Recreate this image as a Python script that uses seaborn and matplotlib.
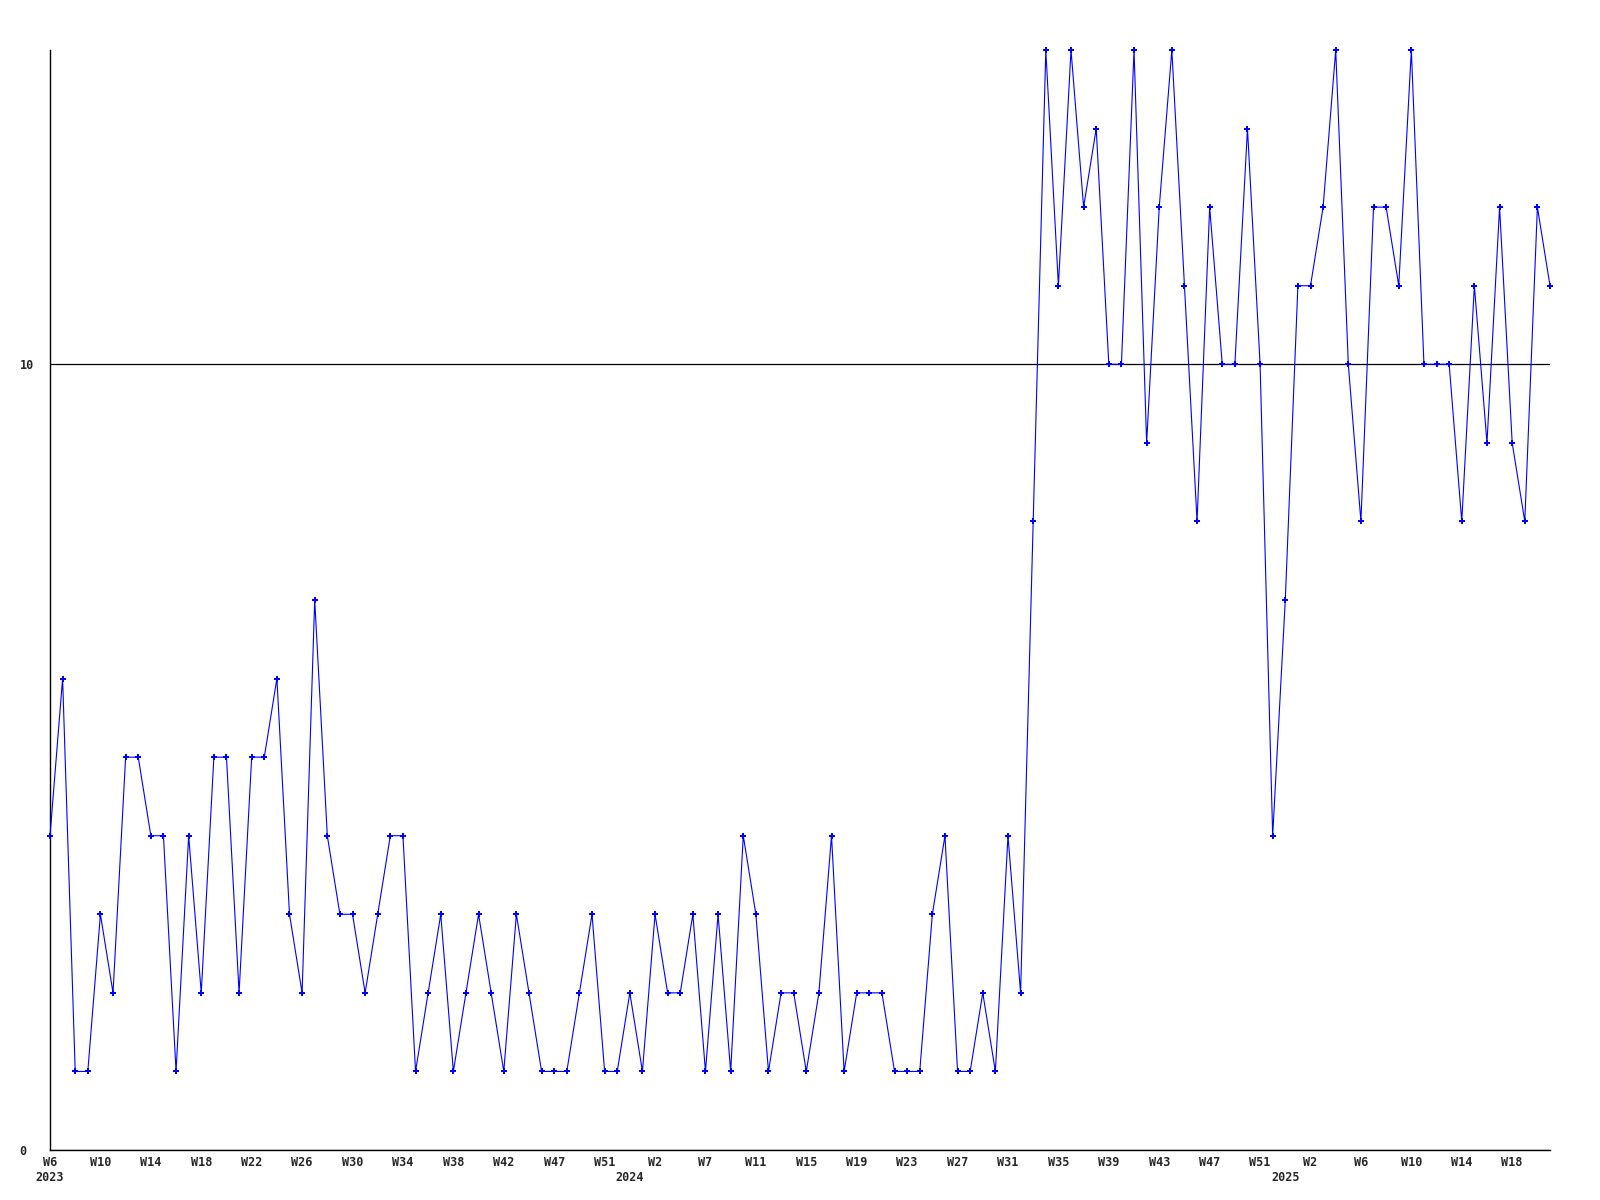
import numpy as np
import pandas as pd
import matplotlib
matplotlib.use('Agg')
import matplotlib.pyplot as plt
import seaborn as sns

# weekly counts, 2023 W6 -> 2025 W21
values = [4, 6, 1, 1, 3, 2, 5, 5, 4, 4,
          1, 4, 2, 5, 5, 2, 5, 5, 6, 3,
          2, 7, 4, 3, 3, 2, 3, 4, 4, 1,
          2, 3, 1, 2, 3, 2, 1, 3, 2, 1,
          1, 1, 2, 3, 1, 1, 2, 1, 3, 2,
          2, 3, 1, 3, 1, 4, 3, 1, 2, 2,
          1, 2, 4, 1, 2, 2, 2, 1, 1, 1,
          3, 4, 1, 1, 2, 1, 4, 2, 8, 14,
          11, 14, 12, 13, 10, 10, 14, 9, 12, 14,
          11, 8, 12, 10, 10, 13, 10, 4, 7, 11,
          11, 12, 14, 10, 8, 12, 12, 11, 14, 10,
          10, 10, 8, 11, 9, 12, 9, 8, 12, 11]

# every 4th week gets a label
week_labels = ['W6', 'W10', 'W14', 'W18', 'W22', 'W26', 'W30', 'W34', 'W38', 'W42',
               'W47', 'W51', 'W2', 'W7', 'W11', 'W15', 'W19', 'W23', 'W27', 'W31',
               'W35', 'W39', 'W43', 'W47', 'W51', 'W2', 'W6', 'W10', 'W14', 'W18']
years = ['2023', '2024', '2025']
year_start_idx = [0, 46, 98]

df = pd.DataFrame({'idx': np.arange(len(values)), 'count': values})

sns.set_style('white')
plt.rcParams['font.family'] = ['DejaVu Sans Mono', 'DejaVu Sans']
plt.rcParams['font.weight'] = 'bold'

fig = plt.figure(figsize=(16, 12), dpi=100)
ax = fig.add_axes([50 / 1600, 50 / 1200, 1500 / 1600, 1100 / 1200])

sns.lineplot(data=df, x='idx', y='count', ax=ax, color='#0000ff', linewidth=0.8,
             marker='P', markersize=4.5, markeredgewidth=0, zorder=3, clip_on=False)

ax.set_xlim(0, len(values) - 1)
ax.set_ylim(0, 14)

ax.set_yticks([0, 10])
ax.set_yticklabels(['0', '10'])
for lab in ax.get_yticklabels():
    lab.set_horizontalalignment('left')
ax.tick_params(axis='y', length=0, pad=22, labelsize=8.5)

# week labels on major ticks, year labels on minor ticks below them
ax.xaxis.remove_overlapping_locs = False
ax.set_xticks(np.arange(0, len(values), 4)[:len(week_labels)])
ax.set_xticklabels(week_labels)
ax.set_xticks(year_start_idx, minor=True)
ax.set_xticklabels(years, minor=True)
ax.tick_params(axis='x', which='major', length=0, pad=4, labelsize=8.5)
ax.tick_params(axis='x', which='minor', length=0, pad=15, labelsize=8.5)

ax.grid(axis='y', which='major', color='black', linewidth=0.9)
ax.grid(axis='x', visible=False)

for side in ['top', 'right']:
    ax.spines[side].set_visible(False)
for side in ['left', 'bottom']:
    ax.spines[side].set_color('black')
    ax.spines[side].set_linewidth(1.0)

ax.set_xlabel('')
ax.set_ylabel('')

plt.savefig('out.png', dpi=100)
